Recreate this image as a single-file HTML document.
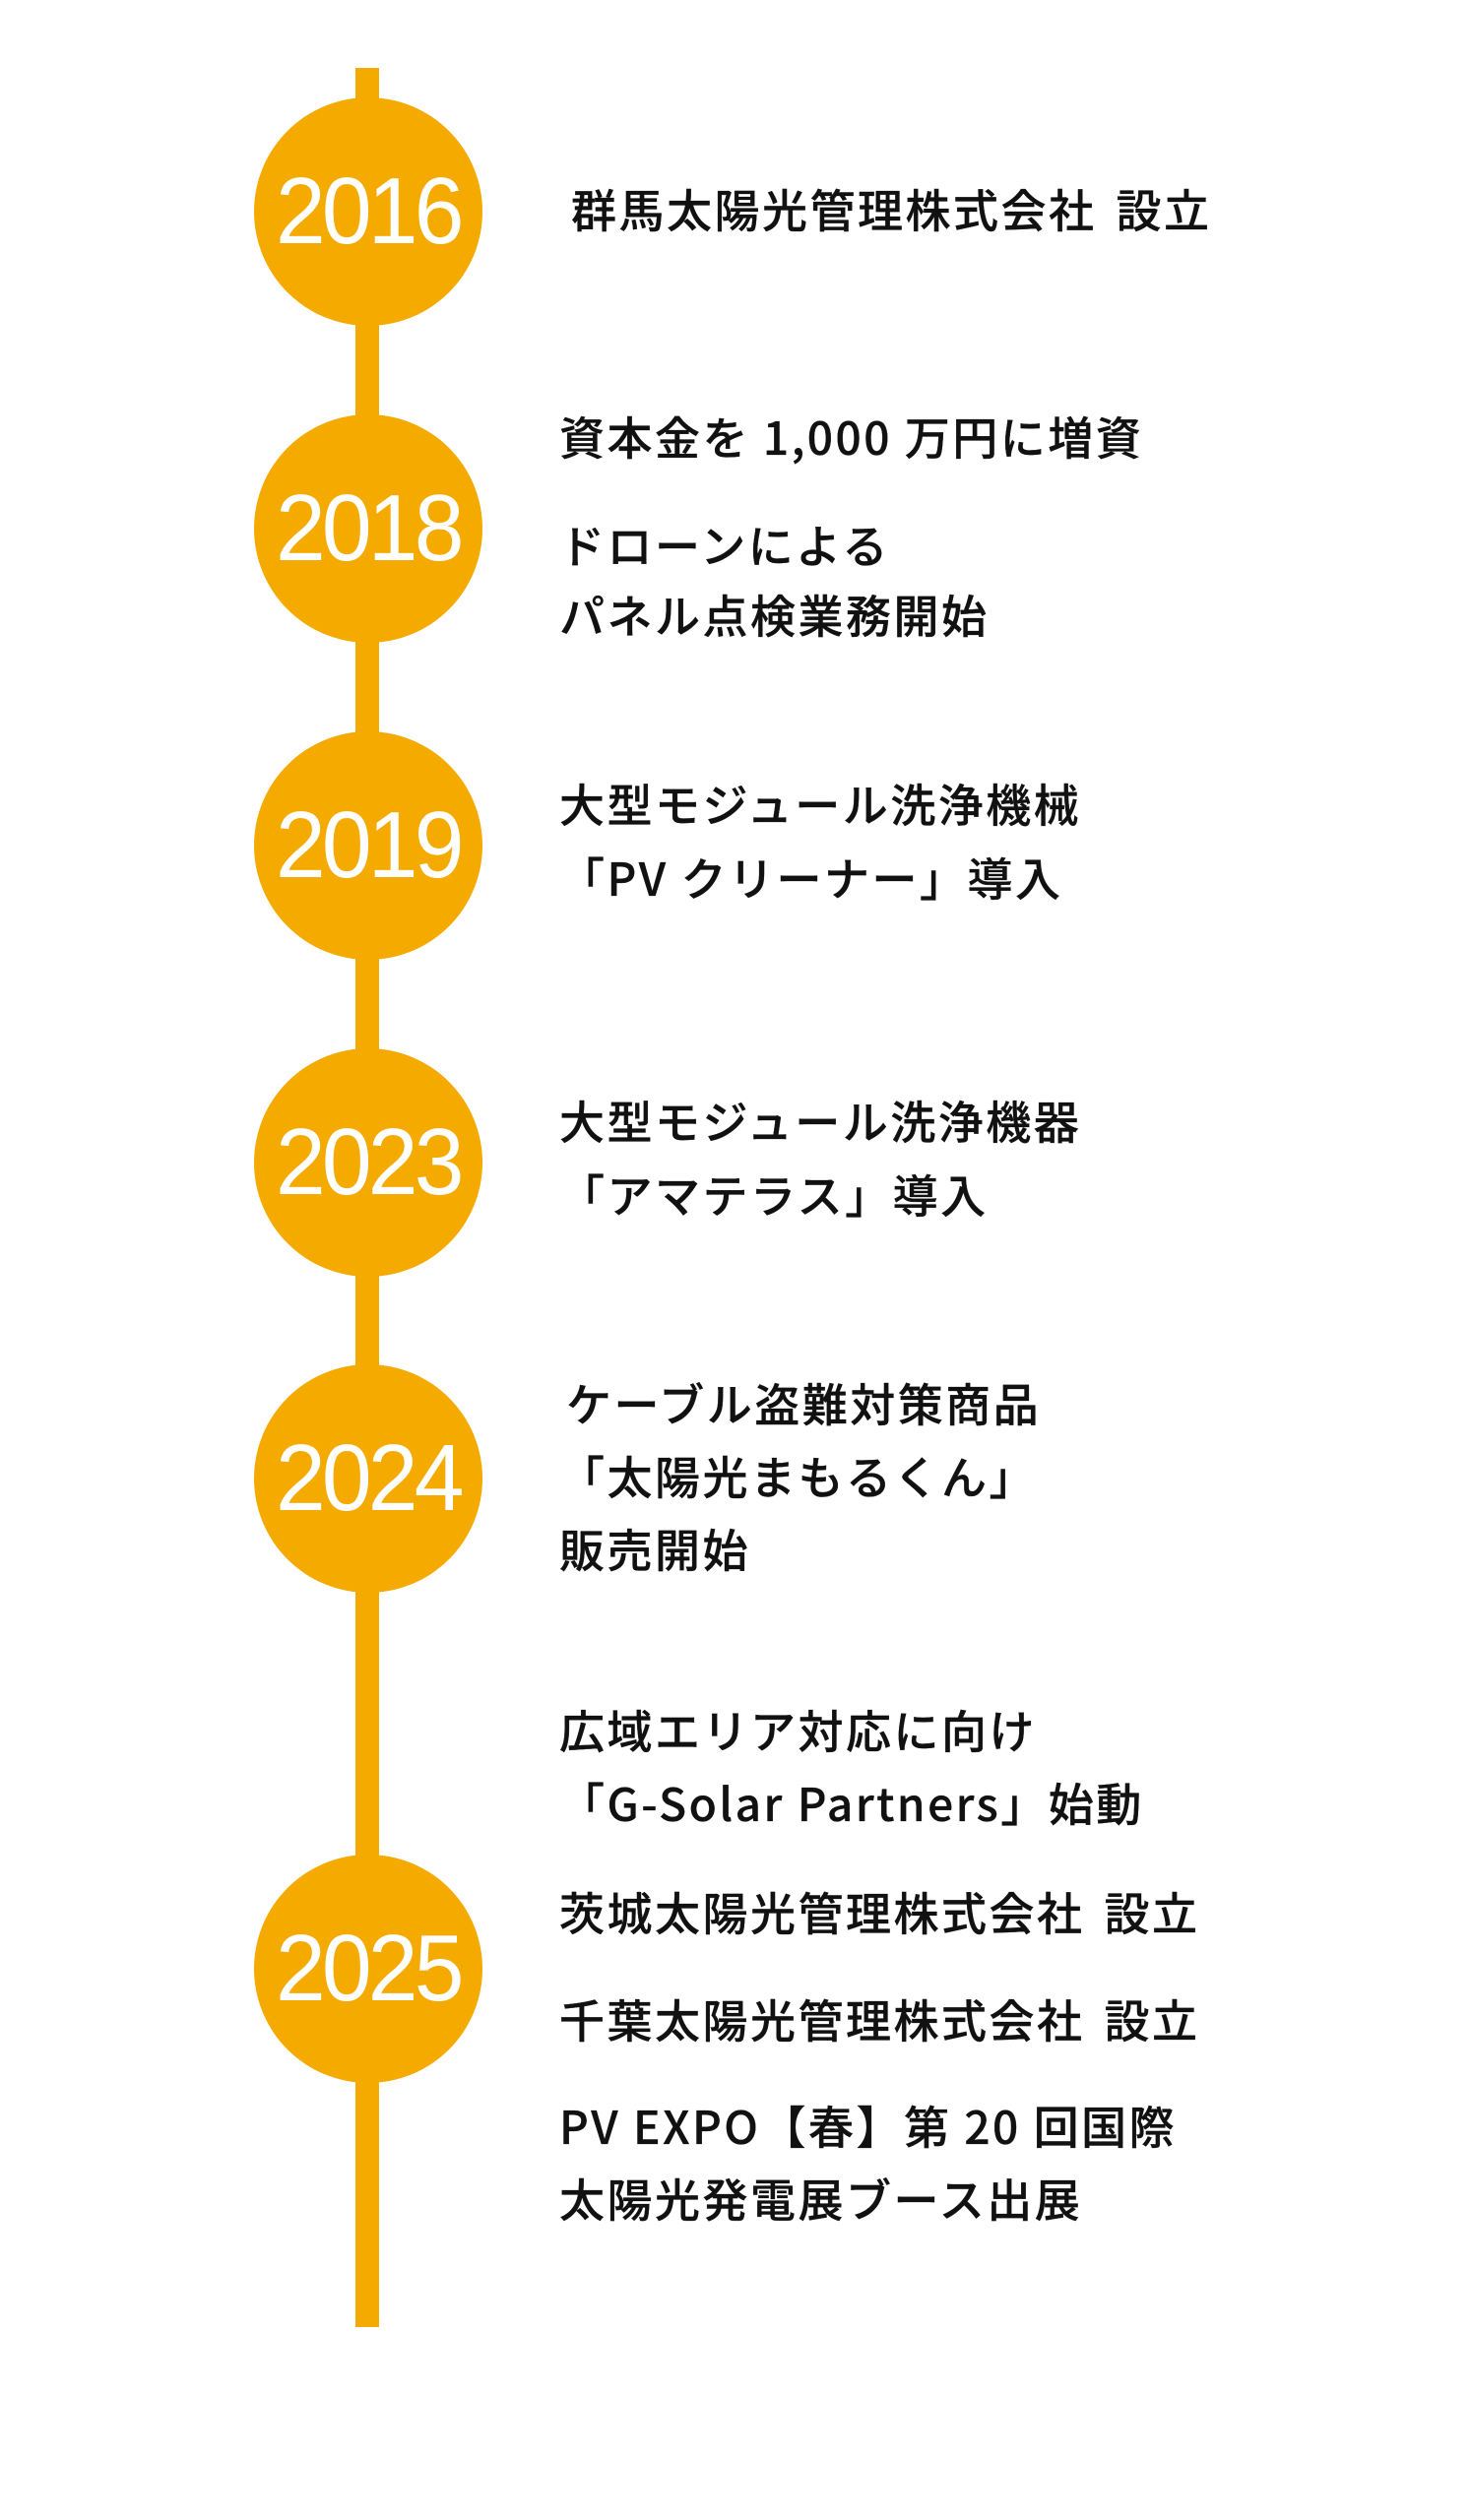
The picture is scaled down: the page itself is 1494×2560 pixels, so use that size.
<!DOCTYPE html>
<html><head><meta charset="utf-8"><style>
html,body{margin:0;padding:0;background:#fff;}
body{width:1494px;height:2560px;position:relative;overflow:hidden;font-family:"Liberation Sans","Noto Sans CJK JP",sans-serif;}
.line{position:absolute;left:361px;top:69px;width:24px;height:2295px;background:#F5AA00;}
.c{position:absolute;left:258px;width:232px;height:232px;border-radius:50%;background:#F5AA00;color:#fff;font-size:96px;line-height:232px;text-align:center;letter-spacing:-4px;}
.c span{display:inline-block;transform:scaleX(0.95);}
.t{position:absolute;left:568px;font-size:46px;line-height:1;letter-spacing:2.5px;color:#111;white-space:nowrap;transform:translateY(-50%);font-family:"Noto Sans CJK JP",sans-serif;font-weight:500;-webkit-text-stroke:0.3px #111;}
.sp{display:inline-block;width:20px;}
</style></head><body>
<div class="line"></div>
<div class="c" style="top:99px"><span>2016</span></div>
<div class="c" style="top:421px"><span>2018</span></div>
<div class="c" style="top:743px"><span>2019</span></div>
<div class="c" style="top:1065px"><span>2023</span></div>
<div class="c" style="top:1386px"><span>2024</span></div>
<div class="c" style="top:1884px"><span>2025</span></div>

<div class="t" style="top:212px;left:580px">群馬太陽光管理株式会社<span class="sp"></span>設立</div>
<div class="t" style="top:443px">資本金を 1,000 万円に増資</div>
<div class="t" style="top:553px">ドローンによる</div>
<div class="t" style="top:624px">パネル点検業務開始</div>
<div class="t" style="top:816px">大型モジュール洗浄機械</div>
<div class="t" style="top:891px">「PV クリーナー」導入</div>
<div class="t" style="top:1138px">大型モジュール洗浄機器</div>
<div class="t" style="top:1213px">「アマテラス」導入</div>
<div class="t" style="top:1425px;left:575px">ケーブル盗難対策商品</div>
<div class="t" style="top:1499px">「太陽光まもるくん」</div>
<div class="t" style="top:1573px">販売開始</div>
<div class="t" style="top:1757px">広域エリア対応に向け</div>
<div class="t" style="top:1831px">「G-Solar Partners」始動</div>
<div class="t" style="top:1942px">茨城太陽光管理株式会社<span class="sp"></span>設立</div>
<div class="t" style="top:2051px">千葉太陽光管理株式会社<span class="sp"></span>設立</div>
<div class="t" style="top:2159px">PV EXPO【春】第 20 回国際</div>
<div class="t" style="top:2233px">太陽光発電展ブース出展</div>
</body></html>
